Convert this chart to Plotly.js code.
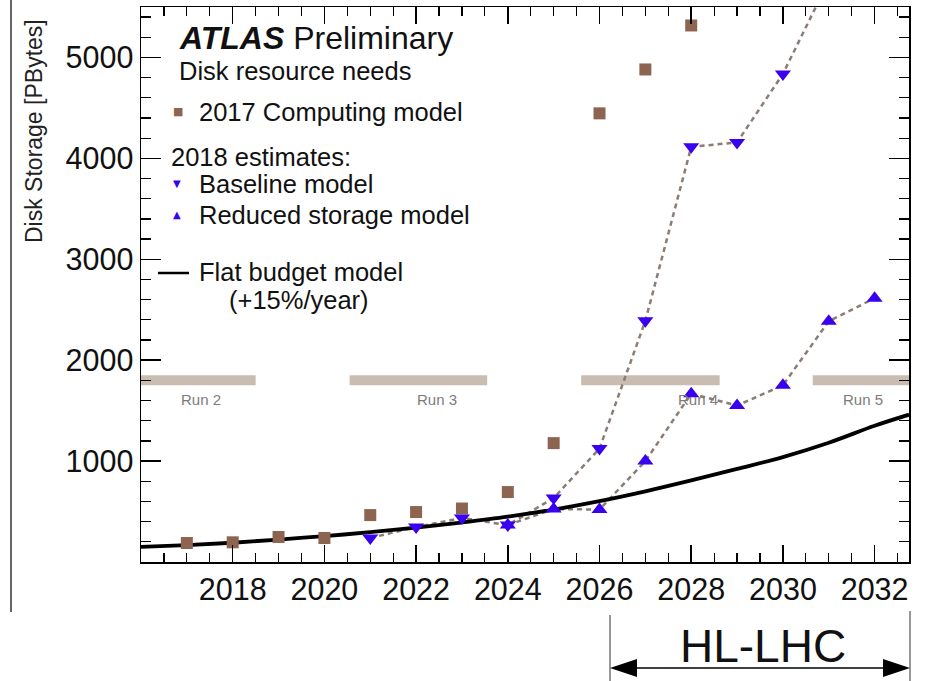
<!DOCTYPE html>
<html>
<head>
<meta charset="utf-8">
<script src="https://cdn.plot.ly/plotly-3.0.1.min.js"></script>
<style>html,body{margin:0;padding:0;background:#fff;}#chart{width:931px;height:681px;}</style>
</head>
<body>
<div id="chart"></div>
<script>
// ---- data ----
const compYears = [2017, 2018, 2019, 2020, 2021, 2022, 2023, 2024, 2025, 2026, 2027, 2028];
const comp2017 = [188, 195, 248, 238, 465, 495, 530, 693, 1178, 4446, 4881, 5317];

const baseYears = [2021, 2022, 2023, 2024, 2025, 2026, 2027, 2028, 2029, 2030, 2031];
const baseline = [238, 347, 436, 366, 634, 1124, 2390, 4114, 4158, 4837, 5760];

const redYears = [2024, 2025, 2026, 2027, 2028, 2029, 2030, 2031, 2032];
const reduced = [366, 525, 520, 1000, 1668, 1550, 1752, 2386, 2614];

const budgetYears = [2016, 2017, 2018, 2019, 2020, 2021, 2022, 2023, 2024, 2025, 2026, 2027, 2028, 2029, 2030, 2031, 2032, 2032.75];
const flatBudget = [149, 168, 191, 222, 257, 295, 340, 392, 450, 520, 603, 700, 808, 922, 1040, 1182, 1350, 1460];

const runNames = ["Run 2", "Run 3", "Run 4", "Run 5"];
const runStart = [2016, 2020.55, 2025.6, 2030.65];
const runEnd = [2018.5, 2023.55, 2028.62, 2032.75];
const runLevel = 1800;
const runLabelX = [2017.3, 2022.45, 2028.15, 2031.75];

const xTickVals = [2018, 2020, 2022, 2024, 2026, 2028, 2030, 2032];
const yTickVals = [1000, 2000, 3000, 4000, 5000];

// ---- styling ----
const FONT = "Liberation Sans, Arial, Helvetica, sans-serif";
const BROWN = "#8c6450";
const BLUE = "#3a00f0";
const DASHC = "#8a7d75";
const RUNC = "#c9bdb1";

const L = 141, R = 909, T = 7, B = 562;
const px = x => (x - L) / (R - L);
const py = y => (B - y) / (B - T);

const traces = [];
// run bars
runNames.forEach((n, i) => {
  traces.push({
    x: [runStart[i], runEnd[i]], y: [runLevel, runLevel],
    mode: "lines", line: {color: RUNC, width: 10}, hoverinfo: "skip", showlegend: false
  });
});
// dashed connectors
traces.push({x: baseYears, y: baseline, mode: "lines", line: {color: DASHC, width: 2.5, dash: "5px,4px"}, showlegend: false});
traces.push({x: redYears, y: reduced, mode: "lines", line: {color: DASHC, width: 2.5, dash: "5px,4px"}, showlegend: false});
// flat budget
traces.push({x: budgetYears, y: flatBudget, mode: "lines", line: {color: "#000", width: 3.8, shape: "spline", smoothing: 1}, showlegend: false});
// markers
traces.push({x: compYears, y: comp2017, mode: "markers", marker: {symbol: "square", size: 12, color: BROWN}, showlegend: false});
traces.push({x: redYears, y: reduced, mode: "markers", marker: {symbol: "triangle-up", size: 14, color: BLUE}, showlegend: false});
traces.push({x: baseYears, y: baseline, mode: "markers", marker: {symbol: "triangle-down", size: 14, color: BLUE}, showlegend: false});

const ann = [];
function txt(text, x, y, size, opts) {
  ann.push(Object.assign({text: text, xref: "paper", yref: "paper", x: px(x), y: py(y), xanchor: "left", yanchor: "middle",
    showarrow: false, font: {family: FONT, size: size, color: "#111"}}, opts || {}));
}
txt("<b><i>ATLAS</i></b> Preliminary", 177, 38, 32);
txt("Disk resource needs", 177, 71, 25.5);
txt("\u25A0", 171, 112, 11, {font: {family: "DejaVu Sans", size: 11, color: BROWN}});
txt("2017 Computing model", 197, 112, 25.5);
txt("2018 estimates:", 169, 157, 25.5);
txt("\u25BC", 171, 184, 10, {font: {family: "DejaVu Sans", size: 10, color: BLUE}});
txt("Baseline model", 197, 184, 25.5);
txt("\u25B2", 171, 215, 10, {font: {family: "DejaVu Sans", size: 10, color: BLUE}});
txt("Reduced storage model", 197, 215, 25.5);
txt("Flat budget model", 197, 272, 25.5);
txt("(+15%/year)", 227, 300, 25.5);
// y title
ann.push({text: "Disk Storage [PBytes]", xref: "paper", yref: "paper", x: px(34), y: py(131), xanchor: "center", yanchor: "middle",
  textangle: -90, showarrow: false, font: {family: FONT, size: 23, color: "#222"}});
// run labels
runNames.forEach((n, i) => {
  ann.push({text: n, xref: "x", yref: "paper", x: runLabelX[i], y: py(399), xanchor: "center", yanchor: "middle",
    showarrow: false, font: {family: FONT, size: 15, color: "#7c7c7c"}});
});
// HL-LHC
ann.push({text: "HL-LHC", xref: "paper", yref: "paper", x: px(763), y: py(646), xanchor: "center", yanchor: "middle",
  showarrow: false, font: {family: FONT, size: 46, color: "#111"}});

const shapes = [
  // legend line
  {type: "line", xref: "paper", yref: "paper", x0: px(158), x1: px(189), y0: py(273), y1: py(273), line: {color: "#000", width: 2.5}},
  // left page line
  {type: "line", xref: "paper", yref: "paper", x0: px(11), x1: px(11), y0: py(0), y1: py(612), line: {color: "#333", width: 1.5}},
  // HL-LHC bracket
  {type: "line", xref: "paper", yref: "paper", x0: px(610), x1: px(610), y0: py(615), y1: py(681), line: {color: "#333", width: 1}},
  {type: "line", xref: "paper", yref: "paper", x0: px(910), x1: px(910), y0: py(611), y1: py(681), line: {color: "#333", width: 1}},
  {type: "line", xref: "paper", yref: "paper", x0: px(620), x1: px(900), y0: py(668), y1: py(668), line: {color: "#000", width: 1.5}},
  {type: "path", xref: "paper", yref: "paper",
    path: `M ${px(610)} ${py(668)} L ${px(637)} ${py(659)} L ${px(637)} ${py(677)} Z`, fillcolor: "#000", line: {width: 0}},
  {type: "path", xref: "paper", yref: "paper",
    path: `M ${px(910)} ${py(668)} L ${px(883)} ${py(659)} L ${px(883)} ${py(677)} Z`, fillcolor: "#000", line: {width: 0}}
];

const layout = {
  width: 931, height: 681,
  margin: {l: L, r: 931 - R, t: T, b: 681 - B, pad: 0},
  paper_bgcolor: "#fff", plot_bgcolor: "#fff",
  showlegend: false,
  font: {family: FONT, color: "#111"},
  xaxis: {
    range: [2016, 2032.75], tickmode: "array", tickvals: xTickVals, ticktext: xTickVals.map(String),
    ticks: "inside", ticklen: 17, tickwidth: 1.5, tickcolor: "#000",
    minor: {dtick: 0.5, tick0: 2016, ticks: "inside", ticklen: 9, tickwidth: 1.2, tickcolor: "#000", showgrid: false},
    showline: true, linecolor: "#000", linewidth: 1.5, mirror: "allticks",
    showgrid: false, zeroline: false, tickfont: {family: FONT, size: 30.5, color: "#111"}
  },
  yaxis: {
    range: [0, 5500], tickmode: "array", tickvals: yTickVals, ticktext: yTickVals.map(String),
    ticks: "inside", ticklen: 20, tickwidth: 1.5, tickcolor: "#000",
    minor: {dtick: 200, tick0: 0, ticks: "inside", ticklen: 10, tickwidth: 1.2, tickcolor: "#000", showgrid: false},
    showline: true, linecolor: "#000", linewidth: 1.5, mirror: "allticks",
    showgrid: false, zeroline: false, tickfont: {family: FONT, size: 30.5, color: "#111"}
  },
  annotations: ann,
  shapes: shapes
};

Plotly.newPlot("chart", traces, layout, {staticPlot: true, displayModeBar: false});
</script>
</body>
</html>
